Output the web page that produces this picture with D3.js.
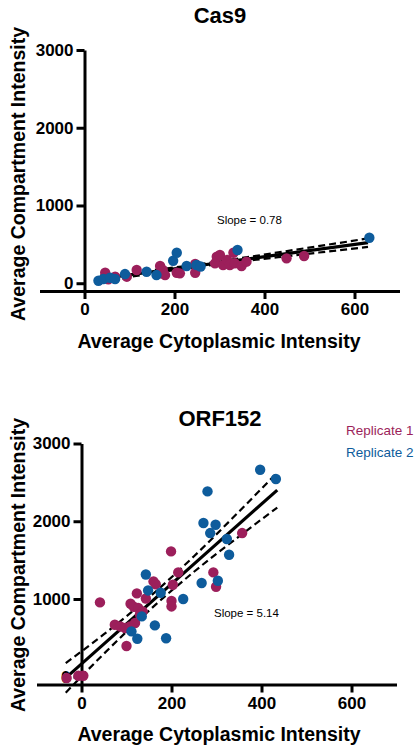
<!DOCTYPE html>
<html><head><meta charset="utf-8">
<script src="https://cdn.jsdelivr.net/npm/d3@7"></script>
<style>
html,body{margin:0;padding:0;background:#fff;}
svg{display:block;font-family:"Liberation Sans",Arial,sans-serif;}
</style></head>
<body>
<svg id="chart" width="420" height="750"></svg>
<script>
// ---- data ----
const panelTitles = ["Cas9", "ORF152"];
const slopeLabels = ["Slope = 0.78", "Slope = 5.14"];
const seriesNames = ["Replicate 1", "Replicate 2"];
const xTicks = [0, 200, 400, 600];
const yTicks = [0, 1000, 2000, 3000];
const xDomain = [-100, 700];
const yDomain = [-100, 3000];
const xTitle = "Average Cytoplasmic Intensity";
const yTitle = "Average Compartment Intensity";

// Cas9
const cas9Rep1X = [46, 53, 68, 94, 116, 168, 168, 174, 179, 205, 212, 246, 246, 290, 294, 301, 308, 317, 323, 331, 334, 349, 360, 449, 488];
const cas9Rep1Y = [135, 50, 84, 84, 170, 221, 127, 170, 105, 135, 127, 247, 135, 256, 341, 363, 234, 298, 234, 392, 256, 221, 277, 320, 350];
const cas9Rep2X = [31, 42, 57, 68, 90, 138, 160, 197, 205, 227, 249, 258, 340, 633];
const cas9Rep2Y = [32, 55, 71, 55, 118, 148, 105, 289, 392, 221, 234, 215, 427, 585];
// ORF152
const orfRep1X = [357, 199, 215, 293, 203, 299, 200, 200, 41, 160, 165, 123, 143, 109, 116, 126, 136, 74, 86, 97, 108, 119, 100, -33, -7, 4, 130];
const orfRep1Y = [1848, 1612, 1342, 1342, 1183, 1158, 975, 904, 956, 1226, 1190, 1072, 1006, 939, 900, 884, 840, 669, 647, 626, 647, 691, 395, -17, 13, 13, 800];
const orfRep2X = [397, 432, 280, 271, 298, 286, 323, 328, 267, 303, 226, 176, 143, 148, 163, 188, 124, 111, 134];
const orfRep2Y = [2663, 2543, 2384, 1977, 1955, 1848, 1771, 1569, 1205, 1235, 1000, 1080, 1315, 1110, 660, 495, 489, 583, 776];

// linear fits (slope, intercept, x-extent) and 95% band
const fitSlopes = [0.78, 5.14];
const fitIntercepts = [30, 165];
const fitXStart = [35, -35];
const fitXEnd = [630, 435];
const cas9BandX = [35, 150, 250, 350, 450, 630];
const cas9BandHalf = [40, 22, 15, 22, 33, 55];
const orfBandX = [-35, 50, 150, 250, 350, 435];
const orfBandHalf = [190, 125, 85, 100, 160, 225];

const colors = ["#9C1F5B", "#0E5C9C"];

// ---- layout ----
const panels = [
  {title: panelTitles[0], slope: slopeLabels[0], xr: [39.5, 399.5], yr: [291, 50], titleY: 23, xTitleY: 348, yTitleCY: 174, slopeX: 217, slopeY: 224,
   s1x: cas9Rep1X, s1y: cas9Rep1Y, s2x: cas9Rep2X, s2y: cas9Rep2Y, bx: cas9BandX, bh: cas9BandHalf, legend: false},
  {title: panelTitles[1], slope: slopeLabels[1], xr: [36.5, 396.5], yr: [684.5, 443.5], titleY: 426, xTitleY: 741, yTitleCY: 565, slopeX: 214, slopeY: 617,
   s1x: orfRep1X, s1y: orfRep1Y, s2x: orfRep2X, s2y: orfRep2Y, bx: orfBandX, bh: orfBandHalf, legend: true}
];

const svg = d3.select("#chart");
const fmt = d3.format("d");

panels.forEach((p, i) => {
  const x = d3.scaleLinear().domain(xDomain).range(p.xr);
  const y = d3.scaleLinear().domain(yDomain).range(p.yr);
  const g = svg.append("g");

  // axes
  const xAxis = g.append("g").attr("transform", `translate(0,${y(yDomain[0])})`)
    .call(d3.axisBottom(x).tickValues(xTicks).tickFormat(fmt).tickSize(8).tickSizeOuter(0).tickPadding(4));
  const yAxis = g.append("g").attr("transform", `translate(${x(0)},0)`)
    .call(d3.axisLeft(y).tickValues(yTicks).tickFormat(fmt).tickSize(8).tickSizeOuter(0).tickPadding(3));
  [xAxis, yAxis].forEach(a => {
    a.select(".domain").attr("stroke", "#000").attr("stroke-width", 3);
    a.selectAll(".tick line").attr("stroke", "#000").attr("stroke-width", 3);
    a.selectAll(".tick text").attr("fill", "#000").attr("font-size", 17).attr("font-weight", "bold")
      .attr("font-family", "'Liberation Sans', Arial, sans-serif");
  });

  // fit band & line
  const fy = xv => fitSlopes[i] * xv + fitIntercepts[i];
  const line = d3.line().x(d => x(d[0])).y(d => y(d[1])).curve(d3.curveMonotoneX);
  const upper = p.bx.map((xv, k) => [xv, fy(xv) + p.bh[k]]);
  const lower = p.bx.map((xv, k) => [xv, fy(xv) - p.bh[k]]);
  [upper, lower].forEach(pts => {
    g.append("path").attr("d", line(pts)).attr("fill", "none").attr("stroke", "#000")
      .attr("stroke-width", 2.2).attr("stroke-dasharray", "7,4");
  });
  g.append("path").attr("d", line([[fitXStart[i], fy(fitXStart[i])], [fitXEnd[i], fy(fitXEnd[i])]]))
    .attr("fill", "none").attr("stroke", "#000").attr("stroke-width", 3.2);

  // points
  const s1 = p.s1x.map((xv, k) => [xv, p.s1y[k]]);
  const s2 = p.s2x.map((xv, k) => [xv, p.s2y[k]]);
  [s1, s2].forEach((s, k) => {
    g.append("g").selectAll("circle").data(s).join("circle")
      .attr("cx", d => x(d[0])).attr("cy", d => y(d[1])).attr("r", 5.2).attr("fill", colors[k]);
  });

  // texts
  g.append("text").attr("x", 220).attr("y", p.titleY).attr("text-anchor", "middle")
    .attr("font-size", 22).attr("font-weight", "bold").text(p.title);
  g.append("text").attr("x", 219).attr("y", p.xTitleY).attr("text-anchor", "middle")
    .attr("font-size", 19.5).attr("font-weight", "bold").text(xTitle);
  g.append("text").attr("transform", `translate(25,${p.yTitleCY}) rotate(-90)`).attr("text-anchor", "middle")
    .attr("font-size", 19.5).attr("font-weight", "bold").text(yTitle);
  g.append("text").attr("x", p.slopeX).attr("y", p.slopeY).attr("font-size", 11.5).text(p.slope);

  if (p.legend) {
    seriesNames.forEach((n, k) => {
      g.append("text").attr("x", 346).attr("y", 435 + k * 22).attr("font-size", 13.5)
        .attr("fill", colors[k]).text(n);
    });
  }
});
</script>
</body></html>
